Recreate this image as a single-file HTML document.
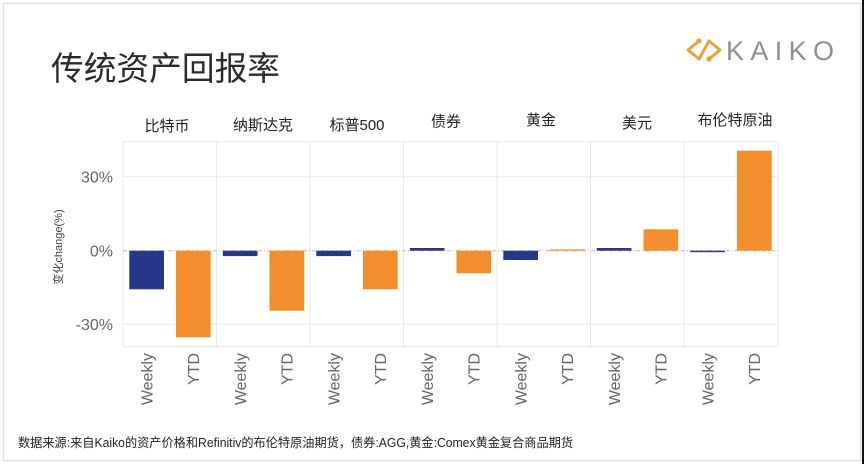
<!DOCTYPE html>
<html>
<head>
<meta charset="utf-8">
<style>
  html,body{margin:0;padding:0;background:#fff;}
  body{width:864px;height:464px;overflow:hidden;}
  svg{display:block;}
  text{font-family:"Liberation Sans","Noto Sans CJK SC",sans-serif;}
</style>
</head>
<body>
<svg width="864" height="464" viewBox="0 0 864 464" xmlns="http://www.w3.org/2000/svg">
  <rect x="0" y="0" width="864" height="464" fill="#fff"/>
  <!-- card border -->
  <rect x="3.5" y="3.5" width="857" height="457" fill="none" stroke="#e2e2e2" stroke-width="1.5"/>
  <rect x="862" y="0" width="2" height="464" fill="#111"/>

  <!-- title -->
  <text x="51" y="80" font-size="33" fill="#2a2a2a" textLength="229" lengthAdjust="spacingAndGlyphs">传统资产回报率</text>

  <!-- logo -->
  <g stroke="#f0a030" stroke-width="3" fill="none" stroke-linecap="round" stroke-linejoin="round">
    <polyline points="699,41 688,50 699,59"/>
    <polyline points="709,41 720,50 709,59"/>
    <line x1="699" y1="59" x2="709" y2="41"/>
  </g>
  <g fill="#f0a030">
    <circle cx="699" cy="41" r="2.6"/>
    <circle cx="709" cy="59" r="2.6"/>
  </g>
  <text x="726" y="60" font-size="27" fill="#8f8f8f" textLength="108" lengthAdjust="spacing">KAIKO</text>

  <!-- facet headers -->
  <g font-size="15" fill="#222" text-anchor="middle">
    <text x="167" y="131">比特币</text>
    <text x="263" y="130">纳斯达克</text>
    <text x="357" y="130">标普500</text>
    <text x="446" y="126.5">债券</text>
    <text x="541" y="125">黄金</text>
    <text x="637" y="128">美元</text>
    <text x="735" y="125">布伦特原油</text>
  </g>

  <!-- plot frame & grid -->
  <g stroke="#e8e8e8" stroke-width="1" fill="none">
    <rect x="123" y="141.7" width="655" height="205"/>
    <line x1="123" y1="176.7" x2="778" y2="176.7"/>
    <line x1="123" y1="324.3" x2="778" y2="324.3"/>
    <line x1="216.5" y1="141.7" x2="216.5" y2="346.7"/>
    <line x1="310" y1="141.7" x2="310" y2="346.7"/>
    <line x1="403.5" y1="141.7" x2="403.5" y2="346.7"/>
    <line x1="497" y1="141.7" x2="497" y2="346.7"/>
    <line x1="590.5" y1="141.7" x2="590.5" y2="346.7"/>
    <line x1="684" y1="141.7" x2="684" y2="346.7"/>
  </g>
  <line x1="123" y1="250.7" x2="778" y2="250.7" stroke="#b8b8b8" stroke-width="1" stroke-dasharray="4,2,1,2"/>

  <!-- bars: zero=250.7, 2.46px per % -->
  <g fill="#27358a">
    <rect x="129.3" y="250.7" width="34.7" height="38.6"/>
    <rect x="222.8" y="250.7" width="34.7" height="5.4"/>
    <rect x="316.3" y="250.7" width="34.7" height="5.4"/>
    <rect x="409.8" y="248" width="34.7" height="2.7"/>
    <rect x="503.3" y="250.7" width="34.7" height="9.3"/>
    <rect x="596.8" y="248" width="34.7" height="2.7"/>
    <rect x="690.3" y="250.7" width="34.7" height="1.5"/>
  </g>
  <g fill="#f28e2c">
    <rect x="176" y="250.7" width="34.7" height="86.6"/>
    <rect x="269.5" y="250.7" width="34.7" height="60"/>
    <rect x="363" y="250.7" width="34.7" height="38.6"/>
    <rect x="456.5" y="250.7" width="34.7" height="22.6"/>
    <rect x="550" y="249.4" width="34.7" height="1.3"/>
    <rect x="643.5" y="229.3" width="34.7" height="21.4"/>
    <rect x="737" y="150.7" width="34.7" height="100"/>
  </g>

  <!-- y tick labels -->
  <g font-size="16" fill="#666" text-anchor="end">
    <text x="113" y="182.5">30%</text>
    <text x="113" y="256.5">0%</text>
    <text x="113" y="330">-30%</text>
  </g>

  <!-- y axis title -->
  <text transform="translate(62,247) rotate(-90)" font-size="11" fill="#444" text-anchor="middle">变化change(%)</text>

  <!-- x labels -->
  <g font-size="16" fill="#666" text-anchor="end">
    <text transform="translate(152.3,353) rotate(-90)">Weekly</text>
    <text transform="translate(199,353) rotate(-90)">YTD</text>
    <text transform="translate(245.8,353) rotate(-90)">Weekly</text>
    <text transform="translate(292.5,353) rotate(-90)">YTD</text>
    <text transform="translate(339.3,353) rotate(-90)">Weekly</text>
    <text transform="translate(386,353) rotate(-90)">YTD</text>
    <text transform="translate(432.8,353) rotate(-90)">Weekly</text>
    <text transform="translate(479.5,353) rotate(-90)">YTD</text>
    <text transform="translate(526.3,353) rotate(-90)">Weekly</text>
    <text transform="translate(573,353) rotate(-90)">YTD</text>
    <text transform="translate(619.8,353) rotate(-90)">Weekly</text>
    <text transform="translate(666.5,353) rotate(-90)">YTD</text>
    <text transform="translate(713.3,353) rotate(-90)">Weekly</text>
    <text transform="translate(760,353) rotate(-90)">YTD</text>
  </g>

  <!-- footer -->
  <text x="18" y="447" font-size="12.5" fill="#222" textLength="555" lengthAdjust="spacingAndGlyphs">数据来源:来自Kaiko的资产价格和Refinitiv的布伦特原油期货，债券:AGG,黄金:Comex黄金复合商品期货</text>
</svg>
</body>
</html>
